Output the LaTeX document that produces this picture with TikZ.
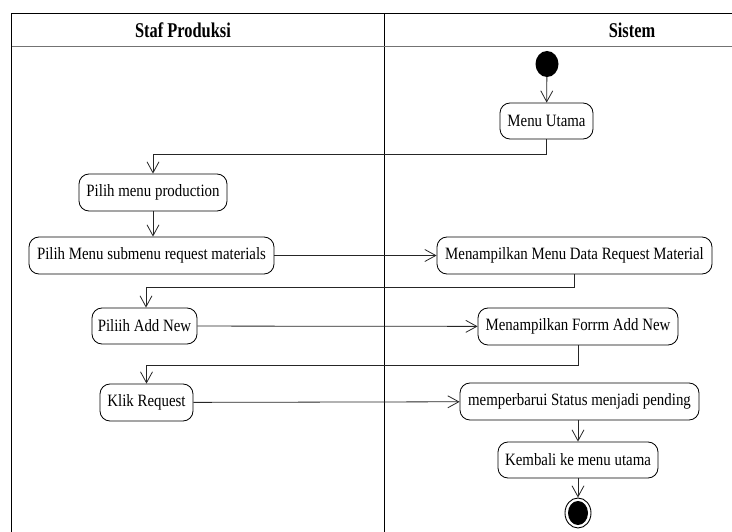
\documentclass[tikz,border=0pt]{standalone}
\usepackage{fontspec}
\setmainfont{Liberation Serif}[FakeStretch=0.86]
\newfontfamily\hdfont{Liberation Serif}[FakeStretch=0.78]
\usetikzlibrary{arrows.meta,shapes.geometric}
\begin{document}
\begin{tikzpicture}[x=1pt,y=-1pt,
  act/.style={draw, line width=0.8pt, rounded corners=10pt, inner sep=0pt,
    font=\fontsize{17.3}{19}\selectfont, align=center},
  flow/.style={line width=0.8pt, draw=black!85,
    -{Straight Barb[length=11pt,width=12pt,line width=0.8pt]}},
  lane/.style={draw, line width=1pt},
  hdr/.style={font=\hdfont\bfseries\fontsize{21}{24}\selectfont, inner sep=0pt}]
\useasboundingbox (0,0) rectangle (732,532);
% swimlane frame
\draw[lane] (11.5,532) -- (11.5,14) -- (732,14);
\draw[lane] (384,14) -- (384,532);
\draw[line width=1.8pt, draw=black!55] (11.5,46.5) -- (732,46.5);
\node[hdr] (h1) at (183,30) {Staf Produksi};
\node[hdr] (h2) at (632,30) {Sistem};
% start
\node[ellipse, fill=black, minimum width=23pt, minimum height=26pt, inner sep=0pt] (start) at (547,64) {};
% activities
\node[act, minimum width=93pt, minimum height=36pt] (menu) at (546.5,121) {Menu Utama};
\node[act, minimum width=148pt, minimum height=37pt] (prod) at (153,192.5) {Pilih menu production};
\node[act, minimum width=245pt, minimum height=37pt] (sub) at (151.5,255.5) {Pilih Menu submenu request materials};
\node[act, minimum width=275pt, minimum height=37pt] (data) at (574.5,255.5) {Menampilkan Menu Data Request Material};
\node[act, minimum width=105pt, minimum height=36pt] (add) at (144.5,326) {Piliih Add New};
\node[act, minimum width=200pt, minimum height=37pt] (form) at (578,326.5) {Menampilkan Forrm Add New};
\node[act, minimum width=93pt, minimum height=37pt] (klik) at (146.5,402.5) {Klik Request};
\node[act, minimum width=239pt, minimum height=37pt] (upd) at (579.5,401.5) {memperbarui Status menjadi pending};
\node[act, minimum width=160pt, minimum height=36pt] (back) at (578,460) {Kembali ke menu utama};
% end
\node[ellipse, draw, line width=0.9pt, minimum width=26pt, minimum height=30pt, inner sep=0pt] (end) at (578,513) {};
\node[ellipse, fill=black, minimum width=20pt, minimum height=24pt, inner sep=0pt] (endin) at (end.center) {};
% bend coordinates
\coordinate (k1) at (0,154);
\coordinate (k2) at (0,287);
\coordinate (k3) at (0,365);
% connectors
\draw[flow] (start) -- (menu);
\draw[flow] (menu.south) -- (menu.south |- k1) -| (prod.north);
\draw[flow] (prod) -- (prod.center |- sub.north);
\draw[flow] (sub) -- (data);
\draw[flow] (data.south) -- (data.south |- k2) -| ([xshift=1.5pt]add.north);
\draw[flow] (add) -- (form);
\draw[flow] (form.south) -- (form.south |- k3) -| (klik.north);
\draw[flow] (klik) -- (upd);
\draw[flow] (upd.south -| back.north) -- (back.north);
\draw[flow] (back) -- (end);
\end{tikzpicture}
\end{document}
